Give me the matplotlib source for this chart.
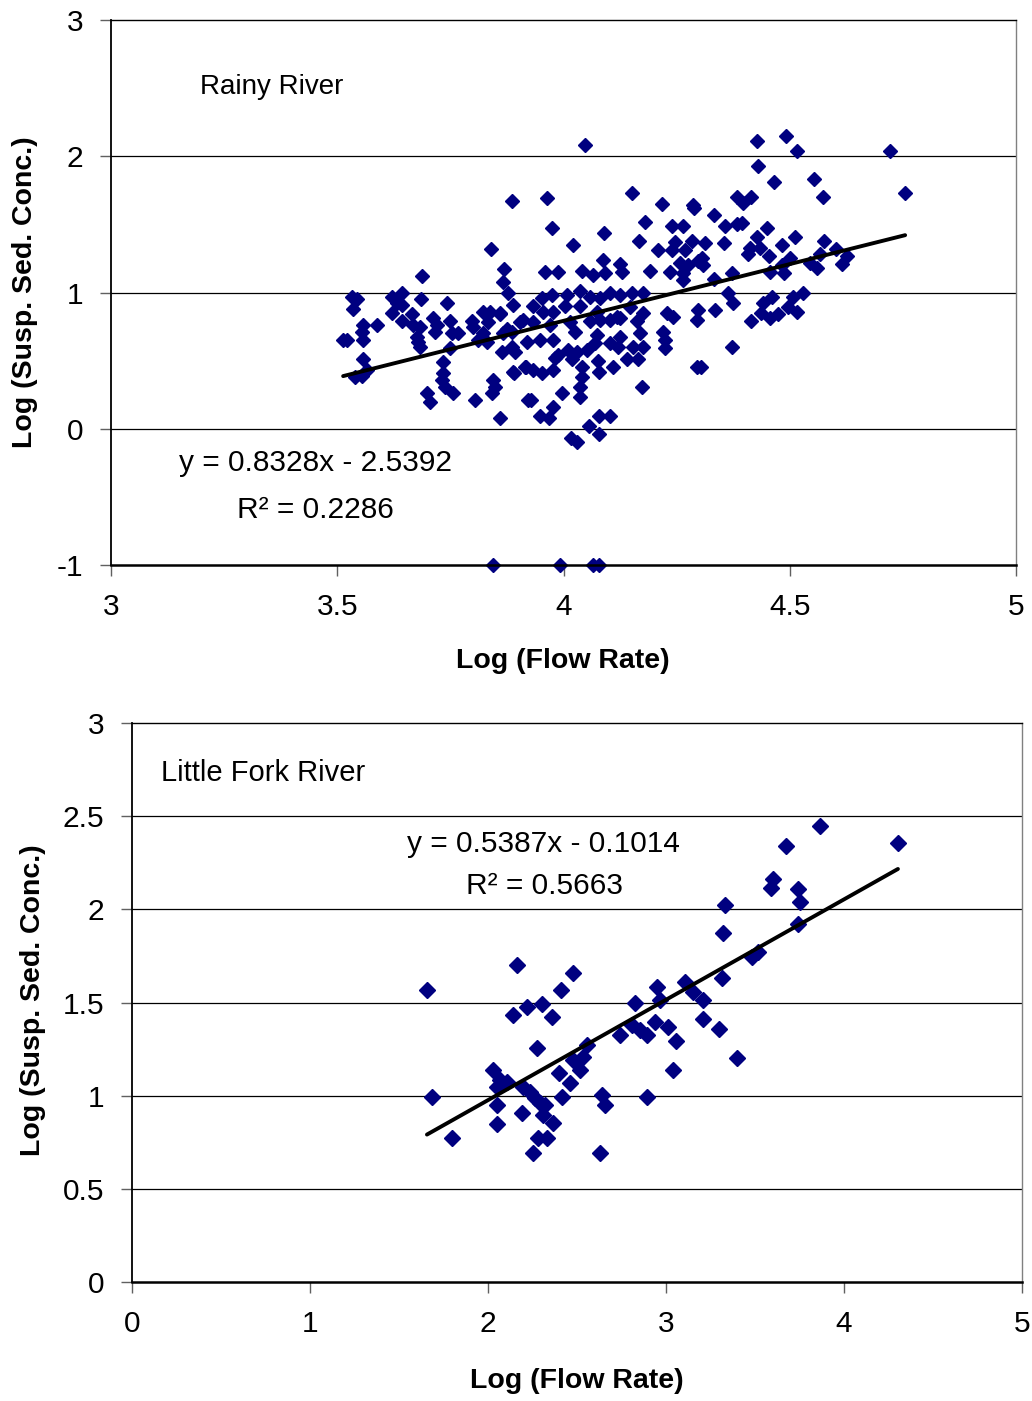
import numpy as np
import matplotlib
matplotlib.use("Agg")
import matplotlib.pyplot as plt

plt.rcParams['font.family'] = ['Liberation Sans', 'DejaVu Sans']

# ---------------- Rainy River data (log flow, log SSC) ----------------
rainy_x = [4.047, 3.886, 3.964, 4.151, 4.218, 4.286, 3.975, 4.180, 4.240, 4.264,
           4.089, 4.021, 4.167, 4.246, 4.284, 4.209, 4.240, 4.268, 4.087, 4.125,
           4.257, 4.275, 4.297, 3.868, 3.959, 3.988, 4.041, 4.065, 4.092, 4.129,
           4.191, 4.235, 4.264, 3.840, 3.687,
           3.866, 3.877, 3.888, 3.533, 3.544, 3.535, 3.621, 3.643, 3.632, 3.643,
           3.685, 3.743, 3.621, 3.665, 3.643, 3.667, 3.683, 3.712, 3.720, 3.749,
           3.798, 3.800, 3.822, 3.838, 3.860, 3.833, 3.910, 3.557, 3.588, 3.555,
           3.716, 3.754, 3.767, 3.822, 3.866, 3.886, 3.522, 3.513, 3.557, 3.676,
           3.683, 3.678, 3.749, 3.811, 3.831, 3.886, 3.864, 3.893, 3.557, 3.566,
           3.539, 3.555, 3.734, 3.734, 3.731, 3.738, 3.888, 3.915, 3.844, 3.849,
           3.842, 3.698, 3.705, 3.756, 3.804, 3.860, 3.922,
           4.056, 4.078, 4.103, 3.948, 3.968, 3.928, 3.977, 3.997, 4.036, 4.036,
           4.173, 3.891, 3.917, 3.933, 3.952, 3.977, 3.981, 3.988, 4.019, 4.041,
           4.041, 4.076, 4.078, 4.109, 4.140, 4.165, 3.919, 3.948, 3.977, 4.010,
           4.030, 4.052, 4.070, 4.074, 4.103, 4.125, 4.120, 4.154, 4.176, 4.169,
           4.220, 4.224, 4.224, 3.875, 3.904, 3.933, 3.970, 4.014, 4.025, 4.059,
           4.081, 4.103, 4.125, 4.162, 4.176, 4.229, 4.295, 3.860, 3.933, 3.955,
           3.977, 4.003, 4.036, 4.074, 4.118, 4.147, 4.242, 3.952, 3.975, 4.008,
           4.036, 4.059, 4.081, 4.103, 4.125, 4.151, 4.176, 4.264, 4.295,
           4.428, 4.492, 4.516, 4.722, 4.430, 4.465, 4.554, 4.573, 4.755, 4.288,
           4.333, 4.383, 4.397, 4.414, 4.357, 4.384, 4.394, 4.450, 4.428, 4.512,
           4.576, 4.313, 4.355, 4.412, 4.434, 4.408, 4.454, 4.483, 4.602, 4.627,
           4.615, 4.545, 4.560, 4.501, 4.483, 4.487, 4.456, 4.372, 4.333, 4.306,
           4.308, 4.567,
           4.363, 4.375, 4.461, 4.507, 4.529, 4.441, 4.436, 4.456, 4.474, 4.496,
           4.516, 4.297, 4.335, 4.414, 4.372, 4.304,
           4.017, 4.030, 4.078, 3.844, 3.992, 4.065, 4.078]
rainy_y = [2.08, 1.67, 1.69, 1.73, 1.65, 1.64, 1.47, 1.52, 1.49, 1.49,
           1.44, 1.35, 1.38, 1.37, 1.38, 1.31, 1.31, 1.31, 1.24, 1.21,
           1.22, 1.20, 1.23, 1.17, 1.15, 1.15, 1.16, 1.13, 1.14, 1.15,
           1.16, 1.15, 1.14, 1.32, 1.12,
           1.08, 1.00, 0.91, 0.97, 0.95, 0.88, 0.97, 1.00, 0.92, 0.91,
           0.95, 0.92, 0.85, 0.84, 0.79, 0.76, 0.75, 0.81, 0.76, 0.79,
           0.79, 0.75, 0.86, 0.86, 0.84, 0.78, 0.80, 0.76, 0.76, 0.71,
           0.71, 0.70, 0.70, 0.70, 0.70, 0.71, 0.65, 0.65, 0.65, 0.67,
           0.60, 0.64, 0.59, 0.65, 0.64, 0.60, 0.56, 0.56, 0.51, 0.43,
           0.38, 0.39, 0.49, 0.41, 0.36, 0.31, 0.42, 0.45, 0.36, 0.31,
           0.26, 0.26, 0.20, 0.26, 0.21, 0.08, 0.21,
           0.02, 0.09, 0.09, 0.09, 0.08, 0.21, 0.16, 0.26, 0.23, 0.31,
           0.31, 0.41, 0.45, 0.43, 0.41, 0.43, 0.52, 0.54, 0.51, 0.45,
           0.38, 0.50, 0.42, 0.45, 0.51, 0.51, 0.64, 0.65, 0.65, 0.58,
           0.56, 0.58, 0.63, 0.69, 0.63, 0.67, 0.60, 0.60, 0.60, 0.70,
           0.71, 0.65, 0.59, 0.73, 0.78, 0.78, 0.76, 0.78, 0.71, 0.79,
           0.80, 0.80, 0.81, 0.79, 0.85, 0.85, 0.80, 0.85, 0.90, 0.86,
           0.86, 0.90, 0.90, 0.86, 0.82, 0.89, 0.82, 0.96, 0.98, 0.98,
           1.01, 0.97, 0.96, 1.00, 0.98, 1.00, 1.00, 1.09, 0.45,
           2.11, 2.15, 2.04, 2.04, 1.93, 1.81, 1.83, 1.70, 1.73, 1.62,
           1.57, 1.70, 1.66, 1.70, 1.49, 1.50, 1.51, 1.47, 1.41, 1.41,
           1.38, 1.36, 1.36, 1.33, 1.33, 1.28, 1.27, 1.35, 1.32, 1.27,
           1.21, 1.22, 1.18, 1.25, 1.20, 1.14, 1.15, 1.14, 1.10, 1.25,
           1.20, 1.28,
           1.00, 0.92, 0.97, 0.97, 1.00, 0.92, 0.85, 0.81, 0.84, 0.89,
           0.86, 0.87, 0.87, 0.79, 0.60, 0.45,
           -0.07, -0.10, -0.04, -1.0, -1.0, -1.0, -1.0]

# ---------------- Little Fork River data ----------------
fork_x = [1.657, 1.685, 1.798, 2.163, 2.478, 2.410, 2.219, 2.303, 2.140, 2.360,
          2.275, 2.028, 2.067, 2.107, 2.051, 2.197, 2.236, 2.264, 2.292, 2.320,
          2.051, 2.191, 2.309, 2.365, 2.051, 2.281, 2.331, 2.253, 2.399, 2.461,
          2.416, 2.478, 2.534, 2.517, 2.556, 2.640, 2.657, 2.629, 2.742, 2.826,
          2.809, 2.854, 2.893, 2.938, 2.949, 2.966, 3.011, 3.056, 3.039, 2.893,
          3.107, 3.152, 3.208, 3.208, 3.298, 3.399, 3.315, 3.320, 3.331, 3.483,
          3.517, 3.601, 3.590, 3.674, 3.865, 3.742, 3.753, 3.742, 4.303]
fork_y = [1.567, 0.993, 0.773, 1.701, 1.658, 1.567, 1.476, 1.492, 1.433, 1.422,
          1.256, 1.138, 1.084, 1.073, 1.047, 1.047, 1.020, 0.987, 0.961, 0.950,
          0.950, 0.907, 0.896, 0.853, 0.848, 0.773, 0.773, 0.692, 1.122, 1.068,
          0.993, 1.191, 1.208, 1.138, 1.272, 1.004, 0.950, 0.692, 1.326, 1.497,
          1.379, 1.352, 1.326, 1.395, 1.583, 1.513, 1.369, 1.293, 1.138, 0.993,
          1.610, 1.556, 1.513, 1.411, 1.358, 1.202, 1.632, 1.873, 2.023, 1.744,
          1.771, 2.163, 2.115, 2.340, 2.447, 2.109, 2.039, 1.921, 2.356]

# Trendline coefficients shown on the chart
rainy_fit = [0.8328, -2.5392]
rainy_r2 = 0.2286
fork_fit = [0.5387, -0.1014]
fork_r2 = 0.5663

rainy_xticks = [3, 3.5, 4, 4.5, 5]
rainy_yticks = [-1, 0, 1, 2, 3]
fork_xticks = [0, 1, 2, 3, 4, 5]
fork_yticks = [0, 0.5, 1, 1.5, 2, 2.5, 3]

W, H = 1032, 1401
fig = plt.figure(figsize=(W / 100, H / 100), dpi=100)


def rect(l, t, r, b):
    return [l / W, 1 - b / H, (r - l) / W, (b - t) / H]


NAVY = '#000080'
TICK_FS = 21.5
LABEL_FS = 20.5
EQ_FS = 21.5


def style(ax, xlim, ylim, xticks, yticks):
    ax.set_xlim(*xlim)
    ax.set_ylim(*ylim)
    ax.set_xticks(xticks)
    ax.set_yticks(yticks)
    ax.set_xticklabels(['%g' % v for v in xticks])
    ax.set_yticklabels(['%g' % v for v in yticks])
    for yv in yticks[1:-1]:
        ax.axhline(yv, color='black', lw=0.9, zorder=1)
    ax.spines['left'].set_color('black')
    ax.spines['left'].set_linewidth(1.3)
    ax.spines['bottom'].set_color('black')
    ax.spines['bottom'].set_linewidth(1.8)
    ax.spines['top'].set_color('black')
    ax.spines['top'].set_linewidth(1.0)
    ax.spines['right'].set_color('#808080')
    ax.spines['right'].set_linewidth(1.0)
    ax.tick_params(axis='both', direction='out', length=8, width=1,
                   color='#606060', labelsize=TICK_FS)
    ax.tick_params(axis='x', pad=12)
    ax.tick_params(axis='y', pad=12)
    for s in ax.spines.values():
        s.set_zorder(5)


# ---------------- Top plot ----------------
ax1 = fig.add_axes(rect(111, 20, 1016, 565))
style(ax1, (3, 5), (-1, 3), rainy_xticks, rainy_yticks)
ax1.plot(rainy_x, rainy_y, linestyle='none', marker='D', ms=7.4,
         mfc=NAVY, mec=NAVY, zorder=3, clip_on=False)
lx = np.array([min(rainy_x), max(rainy_x)])
ax1.plot(lx, np.polyval(rainy_fit, lx), color='black', lw=2.8, zorder=4,
         solid_capstyle='round')
ax1.text(3.197, 2.51, 'Rainy River', fontsize=20, ha='left', va='center')
ax1.text(3.451, -0.25, 'y = %.4fx - %.4f' % (rainy_fit[0], -rainy_fit[1]),
         fontsize=EQ_FS, ha='center', va='center')
ax1.text(3.451, -0.60, 'R\u00b2 = %.4f' % rainy_r2,
         fontsize=EQ_FS, ha='center', va='center')
ax1.set_xlabel('Log (Flow Rate)', fontsize=LABEL_FS, fontweight='bold')
ax1.set_ylabel('Log (Susp. Sed. Conc.)', fontsize=LABEL_FS, fontweight='bold')
ax1.xaxis.set_label_coords((563 - 111) / (1016 - 111), -(648 - 565) / (565 - 20))
ax1.yaxis.set_label_coords(-(111 - 38) / (1016 - 111), (565 - 292) / (565 - 20))

# ---------------- Bottom plot ----------------
ax2 = fig.add_axes(rect(132, 723, 1022, 1282))
style(ax2, (0, 5), (0, 3), fork_xticks, fork_yticks)
ax2.plot(fork_x, fork_y, linestyle='none', marker='D', ms=8.6,
         mfc=NAVY, mec=NAVY, zorder=3, clip_on=False)
lx2 = np.array([min(fork_x), max(fork_x)])
ax2.plot(lx2, np.polyval(fork_fit, lx2), color='black', lw=2.8, zorder=4,
         solid_capstyle='round')
ax2.text(0.163, 2.73, 'Little Fork River', fontsize=21, ha='left', va='center')
ax2.text(2.31, 2.35, 'y = %.4fx - %.4f' % (fork_fit[0], -fork_fit[1]),
         fontsize=EQ_FS, ha='center', va='center')
ax2.text(2.315, 2.125, 'R\u00b2 = %.4f' % fork_r2,
         fontsize=EQ_FS, ha='center', va='center')
ax2.set_xlabel('Log (Flow Rate)', fontsize=LABEL_FS, fontweight='bold')
ax2.set_ylabel('Log (Susp. Sed. Conc.)', fontsize=LABEL_FS, fontweight='bold')
ax2.xaxis.set_label_coords((577 - 132) / (1022 - 132), -(1368 - 1282) / (1282 - 723))
ax2.yaxis.set_label_coords(-(132 - 46) / (1022 - 132), (1282 - 1000) / (1282 - 723))

fig.savefig('out.png', dpi=100)
